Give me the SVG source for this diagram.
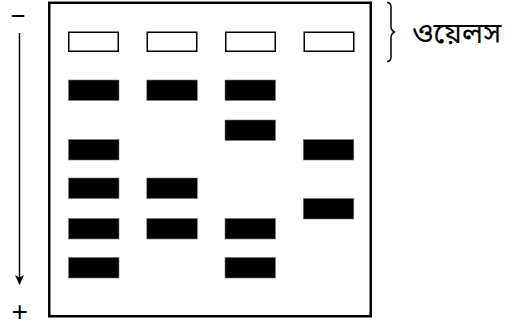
<svg xmlns="http://www.w3.org/2000/svg" width="506" height="328" viewBox="0 0 506 328">
<defs>
<style>
.gel{fill:#fff;stroke:#000;stroke-width:2.5}
.well{fill:#fff;stroke:#000;stroke-width:1.5}
.band{fill:#000;stroke:#777;stroke-width:0.6}
.lbl{font-family:"Noto Sans Bengali","Noto Sans","DejaVu Sans",sans-serif;font-size:29px;fill:#000}
.sign{font-family:"Liberation Sans",Arial,sans-serif;fill:#000}
.conn{fill:none;stroke:#000;stroke-width:1.5}
</style>
<marker id="ah" viewBox="0 0 10 12" refX="9" refY="6" markerWidth="10" markerHeight="12" markerUnits="userSpaceOnUse" orient="auto">
<path d="M0,1.5 L10,6 L0,10.5 L2.5,6 Z" fill="#000"/>
</marker>
</defs>
<g id="gel"><rect class="gel" x="49.25" y="2.75" width="321.5" height="313.5"/></g>
<g id="wells">
<rect class="well" x="68.75" y="32.25" width="49.5" height="19"/>
<rect class="well" x="147.25" y="32.25" width="49.5" height="19"/>
<rect class="well" x="225.75" y="32.25" width="49.5" height="19"/>
<rect class="well" x="304.25" y="32.25" width="49.5" height="19"/>
</g>
<g id="lane1">
<rect class="band" x="68.5" y="80" width="50.5" height="20.5"/>
<rect class="band" x="68.5" y="139.5" width="50.5" height="20.5"/>
<rect class="band" x="68.5" y="178" width="50.5" height="20.5"/>
<rect class="band" x="68.5" y="218.5" width="50.5" height="20.5"/>
<rect class="band" x="68.5" y="257.5" width="50.5" height="20.5"/>
</g>
<g id="lane2">
<rect class="band" x="146.8" y="80" width="50.5" height="20.5"/>
<rect class="band" x="146.8" y="178" width="50.5" height="20.5"/>
<rect class="band" x="146.8" y="218.5" width="50.5" height="20.5"/>
</g>
<g id="lane3">
<rect class="band" x="225" y="80" width="50.5" height="20.5"/>
<rect class="band" x="225" y="120" width="50.5" height="20.5"/>
<rect class="band" x="225" y="218.5" width="50.5" height="20.5"/>
<rect class="band" x="225" y="257.5" width="50.5" height="20.5"/>
</g>
<g id="lane4">
<rect class="band" x="303.3" y="139.5" width="50.5" height="20.5"/>
<rect class="band" x="303.3" y="198.5" width="50.5" height="20.5"/>
</g>
<g id="connectors">
<line class="conn" x1="19.5" y1="33" x2="19.5" y2="284" marker-end="url(#ah)"/>
<path class="conn" stroke-width="1.2" d="M387,2.5 Q391,2.5 391,7 L391,26 Q391,31 395,32 Q391,33 391,38 L391,57 Q391,61.5 387,61.5"/>
</g>
<g id="labels">
<text class="sign" x="11" y="20.5" font-size="20" font-weight="bold" textLength="14" lengthAdjust="spacingAndGlyphs">–</text>
<text class="sign" x="19.8" y="320.8" font-size="28" text-anchor="middle">+</text>
<text class="lbl" x="412" y="43">ওয়েলস</text>
</g>
</svg>
